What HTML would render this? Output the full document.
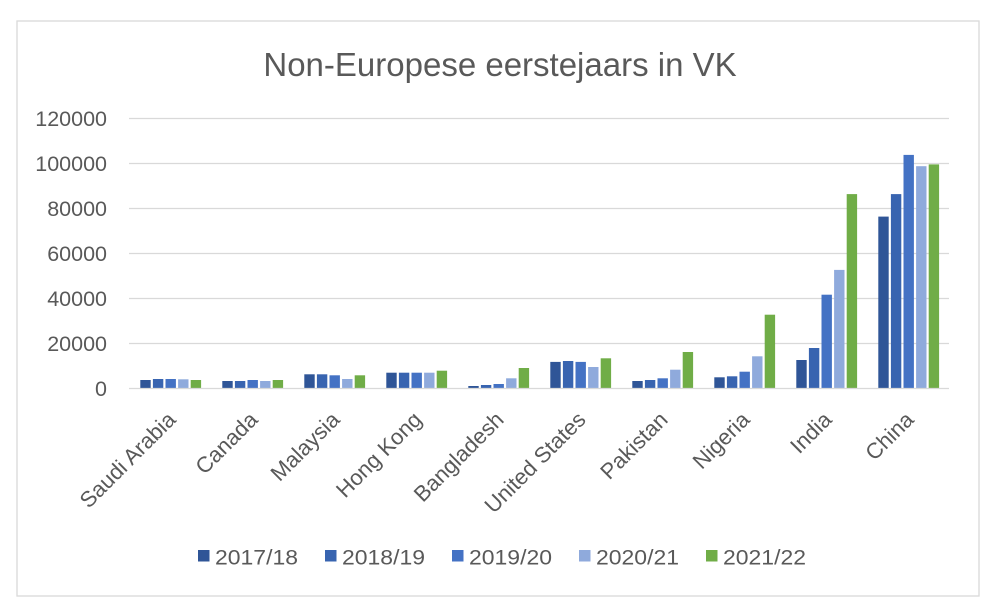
<!DOCTYPE html>
<html>
<head>
<meta charset="utf-8">
<style>
html,body{margin:0;padding:0;background:#fff;}
svg{display:block;}
text{font-family:"Liberation Sans",Arial,sans-serif;fill:#595959;}
</style>
</head>
<body>
<svg width="1000" height="616" viewBox="0 0 1000 616" xmlns="http://www.w3.org/2000/svg">
<rect x="0" y="0" width="1000" height="616" fill="#fff"/>
<rect x="17" y="21" width="962" height="575" fill="#fff" stroke="#D9D9D9" stroke-width="1.3"/>

<text x="500" y="76" font-size="33" text-anchor="middle">Non-Europese eerstejaars in VK</text>

<g stroke="#D9D9D9" stroke-width="1.3">
<line x1="129" y1="118.5" x2="949" y2="118.5"/>
<line x1="129" y1="163.5" x2="949" y2="163.5"/>
<line x1="129" y1="208.5" x2="949" y2="208.5"/>
<line x1="129" y1="253.5" x2="949" y2="253.5"/>
<line x1="129" y1="298.5" x2="949" y2="298.5"/>
<line x1="129" y1="343.5" x2="949" y2="343.5"/>
</g>

<g font-size="21.5" text-anchor="end">
<text x="107" y="126">120000</text>
<text x="107" y="171">100000</text>
<text x="107" y="216">80000</text>
<text x="107" y="261">60000</text>
<text x="107" y="306">40000</text>
<text x="107" y="351">20000</text>
<text x="107" y="396">0</text>
</g>

<!-- bars -->
<g>
<!-- Saudi Arabia -->
<rect x="140.3" y="380.0" width="10.4" height="8.5" fill="#2F5597"/>
<rect x="152.9" y="379.0" width="10.4" height="9.5" fill="#3864B0"/>
<rect x="165.5" y="379.0" width="10.4" height="9.5" fill="#4472C4"/>
<rect x="178.1" y="379.3" width="10.4" height="9.2" fill="#8FAADC"/>
<rect x="190.7" y="380.0" width="10.4" height="8.5" fill="#70AD47"/>
<!-- Canada -->
<rect x="222.3" y="381.0" width="10.4" height="7.5" fill="#2F5597"/>
<rect x="234.9" y="381.0" width="10.4" height="7.5" fill="#3864B0"/>
<rect x="247.5" y="380.0" width="10.4" height="8.5" fill="#4472C4"/>
<rect x="260.1" y="381.0" width="10.4" height="7.5" fill="#8FAADC"/>
<rect x="272.7" y="380.0" width="10.4" height="8.5" fill="#70AD47"/>
<!-- Malaysia -->
<rect x="304.3" y="374.3" width="10.4" height="14.2" fill="#2F5597"/>
<rect x="316.9" y="374.3" width="10.4" height="14.2" fill="#3864B0"/>
<rect x="329.5" y="375.3" width="10.4" height="13.2" fill="#4472C4"/>
<rect x="342.1" y="379.0" width="10.4" height="9.5" fill="#8FAADC"/>
<rect x="354.7" y="375.3" width="10.4" height="13.2" fill="#70AD47"/>
<!-- Hong Kong -->
<rect x="386.3" y="372.7" width="10.4" height="15.8" fill="#2F5597"/>
<rect x="398.9" y="372.7" width="10.4" height="15.8" fill="#3864B0"/>
<rect x="411.5" y="372.7" width="10.4" height="15.8" fill="#4472C4"/>
<rect x="424.1" y="372.7" width="10.4" height="15.8" fill="#8FAADC"/>
<rect x="436.7" y="370.7" width="10.4" height="17.8" fill="#70AD47"/>
<!-- Bangladesh -->
<rect x="468.3" y="386.0" width="10.4" height="2.5" fill="#2F5597"/>
<rect x="480.9" y="385.0" width="10.4" height="3.5" fill="#3864B0"/>
<rect x="493.5" y="384.0" width="10.4" height="4.5" fill="#4472C4"/>
<rect x="506.1" y="378.3" width="10.4" height="10.2" fill="#8FAADC"/>
<rect x="518.7" y="368.0" width="10.4" height="20.5" fill="#70AD47"/>
<!-- United States -->
<rect x="550.3" y="361.9" width="10.4" height="26.6" fill="#2F5597"/>
<rect x="562.9" y="361.0" width="10.4" height="27.5" fill="#3864B0"/>
<rect x="575.5" y="361.9" width="10.4" height="26.6" fill="#4472C4"/>
<rect x="588.1" y="367.0" width="10.4" height="21.5" fill="#8FAADC"/>
<rect x="600.7" y="358.3" width="10.4" height="30.2" fill="#70AD47"/>
<!-- Pakistan -->
<rect x="632.3" y="381.0" width="10.4" height="7.5" fill="#2F5597"/>
<rect x="644.9" y="380.0" width="10.4" height="8.5" fill="#3864B0"/>
<rect x="657.5" y="378.3" width="10.4" height="10.2" fill="#4472C4"/>
<rect x="670.1" y="369.7" width="10.4" height="18.8" fill="#8FAADC"/>
<rect x="682.7" y="352.0" width="10.4" height="36.5" fill="#70AD47"/>
<!-- Nigeria -->
<rect x="714.3" y="377.3" width="10.4" height="11.2" fill="#2F5597"/>
<rect x="726.9" y="376.3" width="10.4" height="12.2" fill="#3864B0"/>
<rect x="739.5" y="371.7" width="10.4" height="16.8" fill="#4472C4"/>
<rect x="752.1" y="356.3" width="10.4" height="32.2" fill="#8FAADC"/>
<rect x="764.7" y="314.7" width="10.4" height="73.8" fill="#70AD47"/>
<!-- India -->
<rect x="796.3" y="360.0" width="10.4" height="28.5" fill="#2F5597"/>
<rect x="808.9" y="348.0" width="10.4" height="40.5" fill="#3864B0"/>
<rect x="821.5" y="294.7" width="10.4" height="93.8" fill="#4472C4"/>
<rect x="834.1" y="269.9" width="10.4" height="118.6" fill="#8FAADC"/>
<rect x="846.7" y="194.1" width="10.4" height="194.4" fill="#70AD47"/>
<!-- China -->
<rect x="878.3" y="216.6" width="10.4" height="171.9" fill="#2F5597"/>
<rect x="890.9" y="194.1" width="10.4" height="194.4" fill="#3864B0"/>
<rect x="903.5" y="154.9" width="10.4" height="233.6" fill="#4472C4"/>
<rect x="916.1" y="166.2" width="10.4" height="222.3" fill="#8FAADC"/>
<rect x="928.7" y="164.4" width="10.4" height="224.1" fill="#70AD47"/>
</g>

<line x1="129" y1="388.5" x2="949" y2="388.5" stroke="#D9D9D9" stroke-width="1.3"/>

<g font-size="22" text-anchor="end">
<text transform="translate(177,421) rotate(-45)">Saudi Arabia</text>
<text transform="translate(259,421) rotate(-45)">Canada</text>
<text transform="translate(341,421) rotate(-45)">Malaysia</text>
<text transform="translate(423,421) rotate(-45)">Hong Kong</text>
<text transform="translate(505,421) rotate(-45)">Bangladesh</text>
<text transform="translate(587,421) rotate(-45)">United States</text>
<text transform="translate(669,421) rotate(-45)">Pakistan</text>
<text transform="translate(751,421) rotate(-45)">Nigeria</text>
<text transform="translate(833,421) rotate(-45)">India</text>
<text transform="translate(915,421) rotate(-45)">China</text>
</g>

<g font-size="21">
<rect x="198" y="550" width="11.5" height="11.5" fill="#2F5597"/>
<text x="215" y="564.5" textLength="83" lengthAdjust="spacingAndGlyphs">2017/18</text>
<rect x="325" y="550" width="11.5" height="11.5" fill="#3864B0"/>
<text x="342" y="564.5" textLength="83" lengthAdjust="spacingAndGlyphs">2018/19</text>
<rect x="452" y="550" width="11.5" height="11.5" fill="#4472C4"/>
<text x="469" y="564.5" textLength="83" lengthAdjust="spacingAndGlyphs">2019/20</text>
<rect x="579" y="550" width="11.5" height="11.5" fill="#8FAADC"/>
<text x="596" y="564.5" textLength="83" lengthAdjust="spacingAndGlyphs">2020/21</text>
<rect x="706" y="550" width="11.5" height="11.5" fill="#70AD47"/>
<text x="723" y="564.5" textLength="83" lengthAdjust="spacingAndGlyphs">2021/22</text>
</g>
</svg>
</body>
</html>
